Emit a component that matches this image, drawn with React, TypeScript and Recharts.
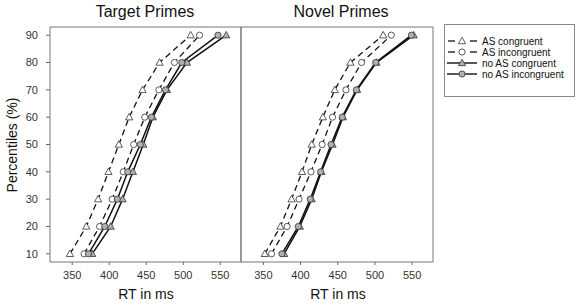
import React from 'react';
import { LineChart, Line, XAxis, YAxis, ReferenceArea, Legend } from 'recharts';

const percentiles = [10, 20, 30, 40, 50, 60, 70, 80, 90];
const xTicks = [350, 400, 450, 500, 550];
const yTicks = [10, 20, 30, 40, 50, 60, 70, 80, 90];
const panelTitles = ['Target Primes', 'Novel Primes'];
const seriesNames = ['AS congruent', 'AS incongruent', 'no AS congruent', 'no AS incongruent'];

const targetASCongruent = [347, 369, 385, 399, 413, 427, 445, 468, 510];
const targetASIncongruent = [366, 387, 404, 419, 433, 448, 467, 488, 522];
const targetNoASCongruent = [377, 402, 418, 432, 446, 459, 478, 505, 558];
const targetNoASIncongruent = [372, 394, 411, 425, 442, 457, 476, 498, 547];

const novelASCongruent = [352, 373, 388, 402, 415, 430, 446, 467, 511];
const novelASIncongruent = [361, 382, 398, 414, 429, 443, 461, 482, 522];
const novelNoASCongruent = [378, 399, 415, 428, 443, 457, 476, 502, 552];
const novelNoASIncongruent = [375, 397, 413, 427, 441, 456, 475, 501, 549];

const FONT = '"Liberation Sans", Arial, sans-serif';
const X_DOMAIN = [320, 578];
const Y_DOMAIN = [7, 93];

type Kind = 'tri' | 'circ';
const styles = [
  { kind: 'tri' as Kind, dashed: true, fill: '#ffffff' },
  { kind: 'circ' as Kind, dashed: true, fill: '#ffffff' },
  { kind: 'tri' as Kind, dashed: false, fill: '#b0b0b0' },
  { kind: 'circ' as Kind, dashed: false, fill: '#b0b0b0' },
];

const toPoints = (vals: number[]) => vals.map((v, i) => ({ rt: v, pct: percentiles[i] }));

function Marker({ cx, cy, kind, fill }: { cx: number; cy: number; kind: Kind; fill: string }) {
  if (cx == null || cy == null) return null;
  if (kind === 'tri') {
    const p = `${cx},${cy - 3.8} ${cx - 3.6},${cy + 2.7} ${cx + 3.6},${cy + 2.7}`;
    return <polygon points={p} fill={fill} stroke="#333" strokeWidth={0.8} />;
  }
  return <circle cx={cx} cy={cy} r={3.1} fill={fill} stroke="#333" strokeWidth={0.8} />;
}

function makeDot(kind: Kind, fill: string) {
  return (props: any) => (
    <g key={`d-${props.index}-${props.cx}`}>
      <Marker cx={props.cx} cy={props.cy} kind={kind} fill={fill} />
    </g>
  );
}

function LegendBox() {
  return (
    <div
      style={{
        width: 131,
        height: 73,
        border: '1px solid #8a8a8a',
        boxSizing: 'border-box',
        fontFamily: FONT,
        position: 'relative',
        background: '#fff',
      }}
    >
      <svg width={131} height={73} style={{ position: 'absolute', left: -1, top: -1 }}>
        {seriesNames.map((name, i) => {
          const s = styles[i];
          const y = 17 + i * 11;
          return (
            <g key={name}>
              {s.dashed ? (
                <>
                  <line x1={4} x2={11} y1={y} y2={y} stroke="#111" strokeWidth={1.3} />
                  <line x1={26} x2={33} y1={y} y2={y} stroke="#111" strokeWidth={1.3} />
                </>
              ) : (
                <line x1={3} x2={33} y1={y} y2={y} stroke="#111" strokeWidth={1.4} />
              )}
              <Marker cx={18} cy={y} kind={s.kind} fill={s.fill} />
              <text x={38} y={y + 3.5} fontSize={10} fill="#111" fontFamily={FONT}>
                {name}
              </text>
            </g>
          );
        })}
      </svg>
    </div>
  );
}

function Panel({
  series,
  left,
  right,
  showY,
  showLegend,
}: {
  series: number[][];
  left: number;
  right: number;
  showY: boolean;
  showLegend: boolean;
}) {
  const tickStyle = { fontSize: 11, fill: '#333', fontFamily: FONT };
  return (
    <LineChart
      width={578}
      height={306}
      margin={{ top: 27, bottom: 14, left: showY ? left - 40 : left, right }}
    >
      <XAxis
        dataKey="rt"
        type="number"
        domain={X_DOMAIN}
        ticks={xTicks}
        allowDataOverflow
        axisLine={false}
        tickLine={{ stroke: '#666' }}
        tickSize={3}
        tickMargin={6}
        height={30}
        tick={tickStyle}
        interval={0}
      />
      <YAxis
        dataKey="pct"
        type="number"
        domain={Y_DOMAIN}
        ticks={yTicks}
        allowDataOverflow
        axisLine={false}
        hide={!showY}
        tickLine={{ stroke: '#666' }}
        tickSize={4}
        tickMargin={8}
        width={40}
        tick={tickStyle}
        interval={0}
      />
      {showY && (
        <YAxis
          yAxisId="r"
          orientation="right"
          mirror
          type="number"
          domain={Y_DOMAIN}
          ticks={yTicks}
          axisLine={false}
          tickLine={{ stroke: '#666' }}
          tickSize={3}
          tickFormatter={() => ''}
          width={0}
          interval={0}
        />
      )}
      <ReferenceArea
        x1={X_DOMAIN[0]}
        x2={X_DOMAIN[1]}
        y1={Y_DOMAIN[0]}
        y2={Y_DOMAIN[1]}
        fill="none"
        stroke="#777"
        strokeWidth={1}
        ifOverflow="extendDomain"
      />
      {series.map((vals, i) => {
        const s = styles[i];
        return (
          <Line
            key={seriesNames[i]}
            data={toPoints(vals)}
            dataKey="pct"
            name={seriesNames[i]}
            type="linear"
            stroke="#111"
            strokeWidth={s.dashed ? 1.3 : 1.5}
            strokeDasharray={s.dashed ? '6 4' : undefined}
            dot={makeDot(s.kind, s.fill)}
            activeDot={false}
            isAnimationActive={false}
          />
        );
      })}
      {showLegend && (
        <Legend
          layout="vertical"
          align="center"
          verticalAlign="middle"
          wrapperStyle={{ position: 'absolute', left: 444, top: 24, width: 131, height: 73 }}
          content={() => <LegendBox />}
        />
      )}
    </LineChart>
  );
}

export default function App() {
  const abs: React.CSSProperties = { position: 'absolute', left: 0, top: 0 };
  return (
    <div style={{ position: 'absolute', left: 0, top: 0, width: 578, height: 306, background: '#fff', fontFamily: FONT }}>
      <div style={abs}>
        <Panel
          series={[targetASCongruent, targetASIncongruent, targetNoASCongruent, targetNoASIncongruent]}
          left={50}
          right={337}
          showY
          showLegend={false}
        />
      </div>
      <div style={abs}>
        <Panel
          series={[novelASCongruent, novelASIncongruent, novelNoASCongruent, novelNoASIncongruent]}
          left={241}
          right={145}
          showY={false}
          showLegend
        />
      </div>
      <svg width={578} height={306} style={{ ...abs, pointerEvents: 'none' }}>
        <text x={145} y={17} textAnchor="middle" fontSize={16} fill="#111" fontFamily={FONT}>
          {panelTitles[0]}
        </text>
        <text x={341} y={17} textAnchor="middle" fontSize={16} fill="#111" fontFamily={FONT}>
          {panelTitles[1]}
        </text>
        <text x={146} y={299} textAnchor="middle" fontSize={14} fill="#111" fontFamily={FONT}>
          RT in ms
        </text>
        <text x={338} y={299} textAnchor="middle" fontSize={14} fill="#111" fontFamily={FONT}>
          RT in ms
        </text>
        <text
          x={17}
          y={145}
          textAnchor="middle"
          fontSize={14}
          fill="#111"
          fontFamily={FONT}
          transform="rotate(-90 17 145)"
        >
          Percentiles (%)
        </text>
      </svg>
    </div>
  );
}
